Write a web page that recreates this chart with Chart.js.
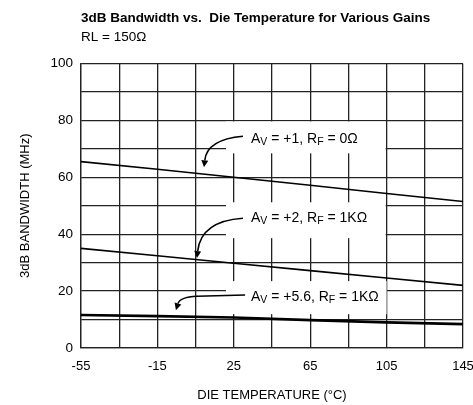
<!DOCTYPE html>
<html>
<head>
<meta charset="utf-8">
<script src="https://cdn.jsdelivr.net/npm/chart.js@4.4.0/dist/chart.umd.min.js"></script>
<style>
html, body { margin: 0; padding: 0; background: #fff; }
#wrap { width: 473px; height: 405px; }
</style>
</head>
<body>
<div id="wrap"><canvas id="bwChart" width="473" height="405"></canvas></div>
<script>
var temps = [-55, -15, 25, 65, 105, 145];
var bwGain1 = [65.5, 62.8, 60.0, 57.2, 54.3, 51.5];
var bwGain2 = [35.0, 32.4, 29.8, 27.2, 24.6, 22.0];
var bwGain56 = [11.6, 11.2, 10.7, 9.8, 9.0, 8.4];
var xGridTicks = [-55, -35, -15, 5, 25, 45, 65, 85, 105, 125, 145];
var xLabelTicks = [-55, -15, 25, 65, 105, 145];
var yLabelTicks = [0, 20, 40, 60, 80, 100];
// label pieces, second item 1 = subscript
var noteLabels = [
    [['A'], ['V', 1], [' = +1, R'], ['F', 1], [' = 0\u03a9']],
    [['A'], ['V', 1], [' = +2, R'], ['F', 1], [' = 1K\u03a9']],
    [['A'], ['V', 1], [' = +5.6, R'], ['F', 1], [' = 1K\u03a9']]
];

var FONT = "'Liberation Sans', Arial, Helvetica, sans-serif";

function pts(ys) {
    return temps.map(function(t, i) { return { x: t, y: ys[i] }; });
}

// white label boxes, text and curved arrows, placed in data units
var notesPlugin = {
    id: 'notes',
    beforeDatasetsDraw: function(chart) {
        var ctx = chart.ctx, xs = chart.scales.x, ys = chart.scales.y;
        var boxes = [[20.9, 104.5, 79.6, 68.4], [20.9, 104.5, 51.2, 38.6], [20.9, 105, 23.5, 11.9]];
        ctx.save();
        ctx.fillStyle = '#fff';
        boxes.forEach(function(b) {
            var x1 = xs.getPixelForValue(b[0]), x2 = xs.getPixelForValue(b[1]);
            var y1 = ys.getPixelForValue(b[2]), y2 = ys.getPixelForValue(b[3]);
            ctx.fillRect(x1, y1, x2 - x1, y2 - y1);
        });
        ctx.restore();
    },
    afterDatasetsDraw: function(chart) {
        var ctx = chart.ctx, xs = chart.scales.x, ys = chart.scales.y;
        function P(p) { return [xs.getPixelForValue(p[0]), ys.getPixelForValue(p[1])]; }
        var textPos = [[34, 73.3], [34, 45.6], [34, 17.9]];
        var arrows = [
            [[29.8, 74.4], null, [11.0, 73.3], [9.4, 63.5]],
            [[29.8, 45.6], null, [7.8, 44.6], [5.7, 31.6]],
            [[30.9, 18.6], [5.7, 18.2], [-3.2, 17.9], [-5.3, 13.3]]
        ];
        ctx.save();
        ctx.fillStyle = '#000';
        ctx.textBaseline = 'middle';
        noteLabels.forEach(function(parts, i) {
            var p = P(textPos[i]);
            var x = p[0];
            parts.forEach(function(part) {
                if (part[1]) {
                    ctx.font = '10.5px ' + FONT;
                    ctx.fillText(part[0], x, p[1] + 3);
                } else {
                    ctx.font = '14px ' + FONT;
                    ctx.fillText(part[0], x, p[1]);
                }
                x += ctx.measureText(part[0]).width;
            });
        });
        ctx.strokeStyle = '#000';
        ctx.lineWidth = 1.6;
        arrows.forEach(function(a) {
            var s = P(a[0]), c = P(a[2]), t = P(a[3]);
            var ang = Math.atan2(t[1] - c[1], t[0] - c[0]);
            var len = 7, hw = 3.5;
            var bx = t[0] - len * Math.cos(ang), by = t[1] - len * Math.sin(ang);
            ctx.beginPath();
            ctx.moveTo(s[0], s[1]);
            if (a[1]) { var m = P(a[1]); ctx.lineTo(m[0], m[1]); }
            ctx.quadraticCurveTo(c[0], c[1], bx, by);
            ctx.stroke();
            ctx.beginPath();
            ctx.moveTo(t[0], t[1]);
            ctx.lineTo(bx + hw * Math.sin(ang), by - hw * Math.cos(ang));
            ctx.lineTo(bx - hw * Math.sin(ang), by + hw * Math.cos(ang));
            ctx.closePath();
            ctx.fill();
        });
        ctx.restore();
    }
};

var chart = new Chart(document.getElementById('bwChart'), {
    type: 'line',
    data: {
        datasets: [
            { data: pts(bwGain1), borderColor: '#000', borderWidth: 1.6, pointRadius: 0 },
            { data: pts(bwGain2), borderColor: '#000', borderWidth: 1.6, pointRadius: 0 },
            { data: pts(bwGain56), borderColor: '#000', borderWidth: 2.6, pointRadius: 0 }
        ]
    },
    options: {
        responsive: false,
        animation: false,
        layout: { padding: { left: 0, right: 10, top: 0, bottom: 0 } },
        scales: {
            x: {
                type: 'linear',
                min: -55,
                max: 145,
                afterBuildTicks: function(scale) {
                    scale.ticks = xGridTicks.map(function(v) { return { value: v }; });
                },
                afterFit: function(scale) {
                    scale.height = 57;
                    scale.paddingLeft = 0;
                    scale.paddingRight = 0;
                },
                grid: { color: '#222', lineWidth: 1.3, drawTicks: false },
                border: { color: '#222', width: 1.3 },
                ticks: {
                    padding: 11,
                    color: '#000',
                    maxRotation: 0,
                    autoSkip: false,
                    font: { family: FONT, size: 13 },
                    callback: function(v) { return xLabelTicks.indexOf(v) >= 0 ? v : ''; }
                },
                title: {
                    display: true,
                    text: 'DIE TEMPERATURE (\u00b0C)',
                    color: '#000',
                    font: { family: FONT, size: 13 },
                    padding: { top: 0, bottom: 2 }
                }
            },
            y: {
                min: 0,
                max: 100,
                ticks: {
                    stepSize: 10,
                    padding: 8,
                    color: '#000',
                    autoSkip: false,
                    font: { family: FONT, size: 13.5 },
                    callback: function(v) { return yLabelTicks.indexOf(v) >= 0 ? v : ''; }
                },
                afterFit: function(scale) { scale.width = 81; },
                grid: { color: '#222', lineWidth: 1.3, drawTicks: false },
                border: { color: '#222', width: 1.3 },
                title: {
                    display: true,
                    text: '3dB BANDWIDTH (MHz)',
                    color: '#000',
                    font: { family: FONT, size: 13 },
                    padding: { top: 18, bottom: 0 }
                }
            }
        },
        plugins: {
            legend: { display: false },
            tooltip: { enabled: false },
            title: {
                display: true,
                fullSize: false,
                align: 'start',
                text: '3dB Bandwidth vs.  Die Temperature for Various Gains',
                color: '#000',
                font: { family: FONT, size: 13.5, weight: 'bold' },
                padding: { top: 10, bottom: 3 }
            },
            subtitle: {
                display: true,
                fullSize: false,
                align: 'start',
                text: 'RL = 150\u03a9',
                color: '#000',
                font: { family: FONT, size: 13.5 },
                padding: { top: 0, bottom: 18 }
            }
        }
    },
    plugins: [notesPlugin]
});
</script>
</body>
</html>
